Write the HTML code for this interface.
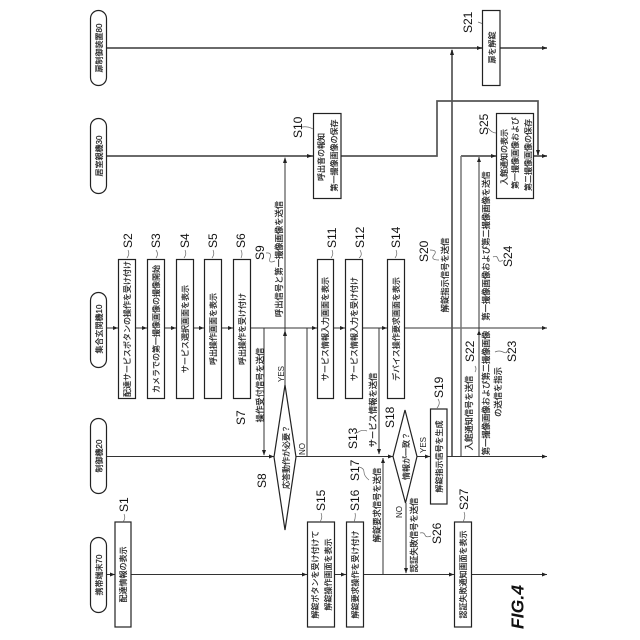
<!DOCTYPE html>
<html lang="ja">
<head>
<meta charset="utf-8">
<title>FIG.4</title>
<style>
html,body{margin:0;padding:0;background:#fff;width:640px;height:640px;overflow:hidden}
svg{display:block}
text{font-family:"Liberation Sans","Noto Sans CJK JP",sans-serif;fill:#222}
.b{font-size:8px;text-anchor:middle;stroke:#222;stroke-width:.2}
.e{font-size:8.3px;text-anchor:middle;stroke:#222;stroke-width:.2}
.s{font-size:12px;text-anchor:start;fill:#111}
.y{font-size:8px;text-anchor:start}
.box{fill:#fff;stroke:#222;stroke-width:1.2}
.thin{stroke:#333;stroke-width:1;fill:none}
.thick{stroke:#555;stroke-width:1.7;fill:none}
.light{stroke:#777;stroke-width:1.5;fill:none}
.c{stroke:#666;stroke-width:.7;fill:none}
.a{fill:#222}
</style>
</head>
<body>
<svg width="640" height="640" viewBox="0 0 640 640" xmlns="http://www.w3.org/2000/svg">
<rect width="640" height="640" fill="#fff"/>

<!-- lifelines -->
<path class="thick" d="M106 48H547M106 156H313M341 156H437V101H538V155M533 156H547M461 156H496"/>
<path class="thin" d="M106 328H547M106 456.5H274M296 456.5H393M417 456.5H430M447 456.5H547M106 574.5H547"/>
<path class="thick" d="M452 50V456"/>
<path class="light" d="M461 156V456"/>
<path class="thin" d="M264 328V455M285 158V385M307 456V328H317M379 328V454M383 574V458M406 503V573M479 157V456"/>

<!-- pills -->
<rect class="box" x="90.5" y="10.5" width="16" height="75" rx="8"/>
<rect class="box" x="90.5" y="118.5" width="16" height="75" rx="8"/>
<rect class="box" x="90.5" y="292.5" width="16" height="75" rx="8"/>
<rect class="box" x="90.5" y="418.5" width="16" height="75" rx="8"/>
<rect class="box" x="90.5" y="537.5" width="16" height="75" rx="8"/>

<!-- boxes -->
<rect class="box" x="115" y="522" width="16" height="105"/>
<rect class="box" x="118.5" y="259.5" width="17" height="139"/>
<rect class="box" x="147.5" y="259.5" width="17" height="139"/>
<rect class="box" x="176.5" y="259.5" width="17" height="139"/>
<rect class="box" x="204.5" y="259.5" width="17" height="139"/>
<rect class="box" x="233.5" y="259.5" width="17" height="139"/>
<rect class="box" x="313.5" y="113.5" width="27.5" height="85"/>
<rect class="box" x="317.5" y="259.5" width="16" height="139"/>
<rect class="box" x="345.5" y="259.5" width="17" height="139"/>
<rect class="box" x="387.5" y="259.5" width="17" height="139"/>
<rect class="box" x="307.5" y="522" width="27" height="105"/>
<rect class="box" x="346.5" y="522" width="17" height="105"/>
<rect class="box" x="430.5" y="409" width="16.5" height="95"/>
<rect class="box" x="454.5" y="522" width="17" height="105"/>
<rect class="box" x="482.5" y="10.5" width="17.5" height="75"/>
<rect class="box" x="496.5" y="113.5" width="37" height="85"/>

<!-- diamonds -->
<polygon class="box" points="285,385 296,457 285,530 274,457"/>
<polygon class="box" points="405,410 417,456.5 405.5,503 393,456.5"/>

<!-- arrowheads -->
<g class="a">
<polygon points="477,46 482,48 477,50"/><polygon points="542,46 547,48 542,50"/>
<polygon points="307,154 312.500,156 307,158"/><polygon points="491,154 496,156 491,158"/><polygon points="542,154 547,156 542,158"/>
<polygon points="113,326 118,328 113,330"/><polygon points="142,326 147,328 142,330"/><polygon points="171,326 176,328 171,330"/><polygon points="199,326 204,328 199,330"/><polygon points="228,326 233,328 228,330"/><polygon points="312,326 317,328 312,330"/><polygon points="340,326 345,328 340,330"/><polygon points="382,326 387,328 382,330"/><polygon points="542,326 547,328 542,330"/>
<polygon points="269,454.500 274,456.500 269,458.500"/><polygon points="388,454.500 393,456.500 388,458.500"/><polygon points="425,454.500 430,456.500 425,458.500"/><polygon points="542,454.500 547,456.500 542,458.500"/>
<polygon points="110,572.500 115,574.500 110,576.500"/><polygon points="302,572.500 307,574.500 302,576.500"/><polygon points="341,572.500 346,574.500 341,576.500"/><polygon points="449,572.500 454,574.500 449,576.500"/><polygon points="542,572.500 547,574.500 542,576.500"/>
<polygon points="450,55 452,49 454,55"/><polygon points="283,163 285,157 287,163"/><polygon points="283,336 285,330 287,336"/><polygon points="477,162 479,157 481,162"/><polygon points="477,335 479,330 481,335"/><polygon points="381,463 383,458 385,463"/>
<polygon points="262,450 264,455.500 266,450"/><polygon points="377,449 379,454.500 381,449"/><polygon points="404,568 406,573.500 408,568"/><polygon points="536,150 538,155.500 540,150"/>
</g>

<!-- connectors from step labels -->
<path class="c" d="M123 522Q126 518 124 514M127 258Q130 254 128 250M156 258Q159 254 156 250M184 258Q187 254 185 250M212 258Q215 254 213 250M241 258Q243 254 241 250M266 253Q272 252 270 258T275 261M302 127Q308 126 313 129M331 258Q334 254 332 250M359 258Q363 255 360 250M395 258Q398 254 396 250M320 522Q323 517 321 513M354 522Q356 517 355 513M359 467Q364 468 364 472T369 480M357 433Q362 429 367 431M437 408Q441 403 438 399M430 250Q438 250 434 255T439 260M478 22L482 23.500M488 128Q492 133 496 133M420 533Q424 532 425 535T431 536M463 522Q466 516 464 512M495 352Q499 350 503 352T507 351M493 257Q497 255 498 259T503 260M475 366Q477 369 475 372"/>

<!-- pill labels -->
<text class="b" transform="translate(102,48) rotate(-90)">扉制御装置80</text>
<text class="b" transform="translate(102,156) rotate(-90)">居室親機30</text>
<text class="b" transform="translate(102,329) rotate(-90)">集合玄関機10</text>
<text class="b" transform="translate(102,456) rotate(-90)">制御機20</text>
<text class="b" transform="translate(102,575) rotate(-90)">携帯端末70</text>

<!-- box labels -->
<text class="b" transform="translate(126,574.500) rotate(-90)">配達情報の表示</text>
<text class="b" transform="translate(130,329) rotate(-90)">配達サービスボタンの操作を受け付け</text>
<text class="b" transform="translate(159,329) rotate(-90)">カメラでの第一撮像画像の撮像開始</text>
<text class="b" transform="translate(188,329) rotate(-90)">サービス選択画面を表示</text>
<text class="b" transform="translate(216,329) rotate(-90)">呼出操作画面を表示</text>
<text class="b" transform="translate(245,329) rotate(-90)">呼出操作を受け付け</text>
<text class="b" transform="translate(324,157) rotate(-90)">呼出音の報知</text>
<text class="b" transform="translate(337,155.500) rotate(-90)">第一撮像画像の保存</text>
<text class="b" transform="translate(328,329) rotate(-90)">サービス情報入力画面を表示</text>
<text class="b" transform="translate(357,329) rotate(-90)">サービス情報入力を受け付け</text>
<text class="b" transform="translate(399,329) rotate(-90)">デバイス操作要求画面を表示</text>
<text class="b" transform="translate(318,574.500) rotate(-90)">解錠ボタンを受け付けて</text>
<text class="b" transform="translate(331,574.500) rotate(-90)">解錠操作画面を表示</text>
<text class="b" transform="translate(358,574.500) rotate(-90)">解錠要求操作を受け付け</text>
<text class="b" transform="translate(442,456.500) rotate(-90)">解錠指示信号を生成</text>
<text class="b" transform="translate(466,574.500) rotate(-90)">認証失敗通知画面を表示</text>
<text class="b" transform="translate(495,47.500) rotate(-90)">扉を解錠</text>
<text class="b" style="text-anchor:start" transform="translate(507,185) rotate(-90)">入館通知の表示</text>
<text class="b" style="text-anchor:start" transform="translate(518,189) rotate(-90)">第一撮像画像および</text>
<text class="b" style="text-anchor:start" transform="translate(531,191) rotate(-90)">第二撮像画像の保存</text>

<!-- diamond labels -->
<text class="b" transform="translate(289,457) rotate(-90)">応答動作が必要？</text>
<text class="b" transform="translate(409,456) rotate(-90)">情報が一致？</text>

<!-- edge labels -->
<text class="e" transform="translate(263,385) rotate(-90)">操作受付信号を送信</text>
<text class="e" transform="translate(282,259) rotate(-90)">呼出信号と第一撮像画像を送信</text>
<text class="e" transform="translate(376,410) rotate(-90)">サービス情報を送信</text>
<text class="e" transform="translate(380,505) rotate(-90)">解錠要求信号を送信</text>
<text class="e" transform="translate(417,535) rotate(-90)">認証失敗信号を送信</text>
<text class="e" transform="translate(448,275) rotate(-90)">解錠指示信号を送信</text>
<text class="e" transform="translate(472,413) rotate(-90)">入館通知信号を送信</text>
<text class="e" transform="translate(489,393) rotate(-90)">第一撮像画像および第二撮像画像</text>
<text class="e" transform="translate(501,392) rotate(-90)">の送信を指示</text>
<text class="e" transform="translate(489,246) rotate(-90)">第一撮像画像および第二撮像画像を送信</text>
<text class="y" transform="translate(284,382) rotate(-90)">YES</text>
<text class="y" transform="translate(305,455) rotate(-90)">NO</text>
<text class="y" transform="translate(426,453) rotate(-90)">YES</text>
<text class="y" transform="translate(402,518) rotate(-90)">NO</text>

<!-- step labels -->
<text class="s" transform="translate(128,512) rotate(-90)">S1</text>
<text class="s" transform="translate(132,248) rotate(-90)">S2</text>
<text class="s" transform="translate(160,248) rotate(-90)">S3</text>
<text class="s" transform="translate(189,248) rotate(-90)">S4</text>
<text class="s" transform="translate(217,248) rotate(-90)">S5</text>
<text class="s" transform="translate(245,248) rotate(-90)">S6</text>
<text class="s" transform="translate(245,425) rotate(-90)">S7</text>
<text class="s" transform="translate(266,488) rotate(-90)">S8</text>
<text class="s" transform="translate(264,260) rotate(-90)">S9</text>
<text class="s" transform="translate(302,138) rotate(-90)">S10</text>
<text class="s" transform="translate(336,248) rotate(-90)">S11</text>
<text class="s" transform="translate(364,248) rotate(-90)">S12</text>
<text class="s" transform="translate(357,449) rotate(-90)">S13</text>
<text class="s" transform="translate(400,248) rotate(-90)">S14</text>
<text class="s" transform="translate(325,511) rotate(-90)">S15</text>
<text class="s" transform="translate(359,511) rotate(-90)">S16</text>
<text class="s" transform="translate(359,481) rotate(-90)">S17</text>
<text class="s" transform="translate(394,428) rotate(-90)">S18</text>
<text class="s" transform="translate(443,398) rotate(-90)">S19</text>
<text class="s" transform="translate(428,262) rotate(-90)">S20</text>
<text class="s" transform="translate(472,33) rotate(-90)">S21</text>
<text class="s" transform="translate(474,362) rotate(-90)">S22</text>
<text class="s" transform="translate(516,362) rotate(-90)">S23</text>
<text class="s" transform="translate(512,267) rotate(-90)">S24</text>
<text class="s" transform="translate(488,135) rotate(-90)">S25</text>
<text class="s" transform="translate(441,544) rotate(-90)">S26</text>
<text class="s" transform="translate(468,510) rotate(-90)">S27</text>

<text transform="translate(523.500,629) rotate(-90)" style="font-size:17.6px;font-weight:bold;font-style:italic;fill:#111">FIG.4</text>
</svg>
</body>
</html>
